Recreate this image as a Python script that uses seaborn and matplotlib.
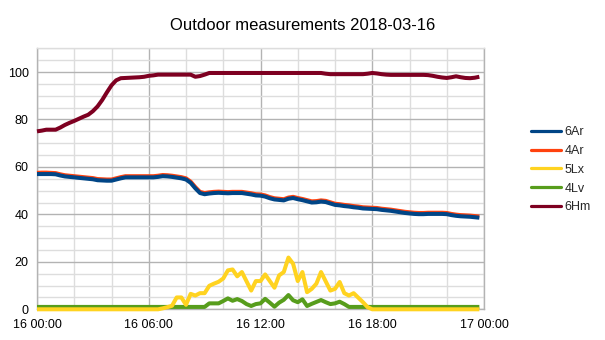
import numpy as np
import pandas as pd
import matplotlib
matplotlib.use("Agg")
import matplotlib.pyplot as plt
from matplotlib.lines import Line2D
from matplotlib.ticker import MultipleLocator, FixedLocator, FixedFormatter
import seaborn as sns

sns.set_theme(style="white")
plt.rcParams["font.family"] = ["Liberation Sans", "DejaVu Sans"]

# ---------------- data (15-minute samples, hours since 2018-03-16 00:00) ----------------
hours = np.arange(96) * 0.25

ar6 = [57.0, 57.0, 57.0, 57.0, 56.9, 56.4, 56.0, 55.8, 55.6, 55.4, 55.2, 55.0,
       54.8, 54.4, 54.3, 54.2, 54.2, 54.7, 55.2, 55.6, 55.6, 55.6, 55.6, 55.6,
       55.6, 55.6, 55.8, 56.1, 56.0, 55.8, 55.5, 55.2, 54.7, 53.3, 51.0, 49.0,
       48.5, 48.8, 49.0, 49.1, 49.0, 48.9, 49.0, 49.0, 49.0, 48.7, 48.4, 48.0,
       47.9, 47.5, 46.8, 46.3, 46.1, 45.9, 46.6, 46.9, 46.4, 46.0, 45.5, 45.0,
       45.1, 45.4, 45.2, 44.6, 44.0, 43.8, 43.5, 43.3, 43.0, 42.8, 42.5, 42.4,
       42.3, 42.2, 41.9, 41.7, 41.5, 41.2, 40.9, 40.6, 40.4, 40.2, 40.1, 40.1,
       40.2, 40.2, 40.2, 40.2, 40.1, 39.7, 39.4, 39.2, 39.1, 39.0, 38.8, 38.6]

ar4 = [57.5, 57.6, 57.6, 57.5, 57.4, 56.9, 56.5, 56.3, 56.1, 55.9, 55.7, 55.5,
       55.3, 54.9, 54.8, 54.7, 54.7, 55.2, 55.7, 56.1, 56.1, 56.1, 56.1, 56.1,
       56.1, 56.1, 56.3, 56.6, 56.5, 56.3, 56.0, 55.7, 55.2, 53.8, 51.5, 49.5,
       49.0, 49.3, 49.5, 49.6, 49.5, 49.4, 49.5, 49.5, 49.5, 49.2, 48.9, 48.5,
       48.4, 48.0, 47.3, 46.8, 46.6, 46.4, 47.1, 47.4, 46.9, 46.5, 46.0, 45.5,
       45.6, 45.9, 45.7, 45.1, 44.5, 44.3, 44.0, 43.8, 43.5, 43.3, 43.0, 42.9,
       42.8, 42.7, 42.4, 42.2, 42.0, 41.7, 41.4, 41.1, 40.9, 40.7, 40.6, 40.6,
       40.7, 40.7, 40.7, 40.7, 40.6, 40.2, 39.9, 39.7, 39.6, 39.5, 39.3, 39.1]

lx5 = [0.0] * 27 + [
       0.4, 0.9, 1.5, 5.0, 5.0, 1.9, 6.5, 5.8, 6.8, 6.8, 9.9, 10.8,
       11.6, 13.0, 16.4, 16.8, 13.9, 15.7, 11.8, 7.9, 11.9, 11.9, 14.7, 11.9,
       9.1, 14.3, 15.7, 21.8, 19.2, 11.9, 15.7, 7.2, 8.6, 10.8, 15.7, 11.8,
       7.9, 8.6, 11.5, 6.8, 5.8, 6.8, 4.9, 3.0, 0.9] + [0.0] * 24

lv4 = [1.0] * 37 + [
       2.5, 2.5, 2.5, 3.5, 4.6, 3.6, 4.3, 3.5, 2.2, 1.4, 2.2, 2.5,
       4.4, 2.8, 1.1, 2.8, 4.0, 6.0, 3.8, 3.0, 4.2, 1.4, 2.3, 3.1,
       3.9, 3.0, 2.2, 2.5, 3.2, 2.2] + [1.0] * 29

hm6 = [75.0, 75.3, 75.7, 75.7, 75.7, 76.6, 77.7, 78.6, 79.4, 80.3, 81.2, 82.0,
       83.5, 85.5, 88.2, 91.4, 94.4, 96.5, 97.4, 97.5, 97.6, 97.7, 97.8, 98.0,
       98.4, 98.6, 98.9, 98.9, 98.9, 98.9, 98.9, 98.9, 98.9, 98.9, 98.0, 98.3,
       98.9, 99.6, 99.6, 99.6, 99.6, 99.6, 99.6, 99.6, 99.6, 99.6, 99.6, 99.6,
       99.6, 99.6, 99.6, 99.6, 99.6, 99.6, 99.6, 99.6, 99.6, 99.6, 99.6, 99.6,
       99.6, 99.6, 99.3, 99.1, 99.1, 99.1, 99.1, 99.1, 99.1, 99.1, 99.1, 99.3,
       99.6, 99.4, 99.1, 98.9, 98.8, 98.8, 98.8, 98.8, 98.8, 98.8, 98.8, 98.8,
       98.7, 98.4, 98.0, 97.7, 97.5, 97.8, 98.2, 97.8, 97.5, 97.4, 97.6, 98.0]

series_names = ["6Ar", "4Ar", "5Lx", "4Lv", "6Hm"]
series_values = [ar6, ar4, lx5, lv4, hm6]
colors = ["#004586", "#ff420e", "#ffd320", "#579d1c", "#7e0021"]

x_tick_pos = [0, 6, 12, 18, 24]
x_tick_labels = ["16 00:00", "16 06:00", "16 12:00", "16 18:00", "17 00:00"]
y_ticks = [0, 20, 40, 60, 80, 100]
title = "Outdoor measurements 2018-03-16"

df = pd.concat(
    [pd.DataFrame({"hour": hours, "value": v, "series": n})
     for n, v in zip(series_names, series_values)],
    ignore_index=True,
)

# ---------------- figure ----------------
W, H = 605, 340
fig = plt.figure(figsize=(W / 100, H / 100), dpi=100)
fig.patch.set_facecolor("white")
left, right, top, bottom = 37, 484, 48.3, 309.3
ax = fig.add_axes([left / W, 1 - bottom / H, (right - left) / W, (bottom - top) / H])

sns.lineplot(data=df, x="hour", y="value", hue="series", hue_order=series_names,
             palette=colors, linewidth=2.9, ax=ax, legend=False)

zorders = {"6Ar": 10, "4Ar": 9, "5Lx": 8, "4Lv": 7, "6Hm": 6}
for line, name in zip(ax.lines, series_names):
    line.set_zorder(zorders[name])
    line.set_clip_on(False)
    line.set_solid_joinstyle("round")
    line.set_solid_capstyle("butt")

ax.set_xlim(0, 24)
ax.set_ylim(0, 110)
ax.xaxis.set_major_locator(FixedLocator(x_tick_pos))
ax.xaxis.set_major_formatter(FixedFormatter(x_tick_labels))
ax.xaxis.set_minor_locator(MultipleLocator(2))
ax.yaxis.set_major_locator(FixedLocator(y_ticks))
ax.yaxis.set_minor_locator(MultipleLocator(5))

ax.grid(which="major", color="#b3b3b3", linewidth=1.0)
ax.grid(which="minor", color="#dddddd", linewidth=1.0)
ax.set_axisbelow(True)
for side in ["left", "right", "bottom"]:
    ax.spines[side].set_color("#b3b3b3")
    ax.spines[side].set_linewidth(1.0)
ax.spines["top"].set_color("#dddddd")
ax.spines["top"].set_linewidth(1.0)

ax.tick_params(axis="both", which="major", direction="out", length=4, width=1,
               color="#b3b3b3", labelsize=9, labelcolor="#000000", pad=2)
ax.tick_params(axis="both", which="minor", length=0)
ax.tick_params(axis="x", pad=3)
ax.set_xlabel("")
ax.set_ylabel("")

fig.text(0.5, 1 - 26 / H, title, ha="center", va="center", fontsize=12, color="#000000")

handles = [Line2D([0], [0], color=c, linewidth=2.3) for c in colors]
fig.legend(handles, series_names, loc="upper left",
           bbox_to_anchor=(531 / W, 1 - 126 / H), frameon=False, fontsize=9,
           handlelength=2.4, handletextpad=0.3, labelspacing=0.55,
           borderaxespad=0, borderpad=0)

fig.savefig("out.png", dpi=100, facecolor="white")
